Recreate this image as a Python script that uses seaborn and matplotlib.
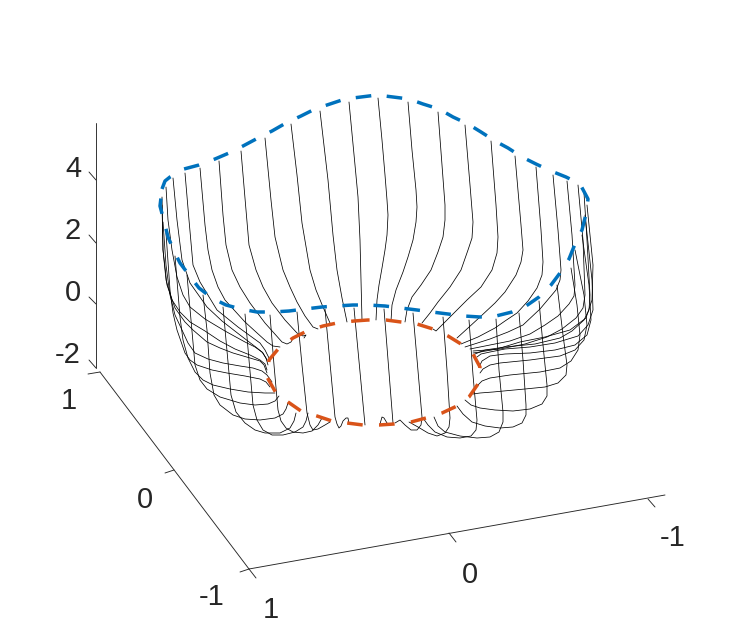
import pandas as pd
import seaborn as sns
import matplotlib
matplotlib.use("Agg")
import matplotlib.pyplot as plt

# Traced in picture units (the view plane of the original 3-D plot)
back_meridians = [
    [(162,197),(163,250),(166,280),(172,300),(180,312),(190,322),(205,331),(220,341),(235,349),(250,355),(260,360),(265,364),(267,370)],
    [(166,187),(168,220),(172,250),(177,277),(183,295),(190,307),(205,319),(225,331),(245,342),(255,347),(262,352),(266,358),(268,365)],
    [(173,178),(177,220),(182,260),(190,283),(207,307),(222,321),(240,335),(257,348),(263,353),(267,360)],
    [(185,173),(189,220),(193,265),(200,282),(217,310),(238,327),(260,343),(265,350),(269,358)],
    [(200,168),(205,225),(208,250),(212,270),(218,287),(225,300),(245,322),(267,342),(273,346),(280,347)],
    [(219,161),(223,215),(226,245),(232,270),(240,287),(250,303),(265,323),(282,342),(287,344),(291,342),(293,338)],
    [(241,151),(246,210),(249,245),(256,270),(263,287),(272,303),(285,320),(297,333),(303,336),(306,335),(304,338)],
    [(265,138),(271,200),(275,237),(283,270),(290,287),(297,302),(305,316),(313,327),(318,329)],
    [(291,124),(297,175),(302,223),(310,270),(316,290),(323,307),(330,323)],
    [(320,111),(328,180),(333,235),(337,270),(342,298),(347,322)],
    [(349,102),(355,165),(358,197),(360,240),(361,280),(362,320)],
    [(378,98),(382,140),(385,175),(387,200),(388,215),(387,235),(385,250),(382,268),(379,285),(377,300),(376,320)],
    [(408,102),(412,150),(416,190),(417,207),(416,222),(413,240),(408,257),(403,272),(396,290),(392,305),(391,321)],
    [(438,112),(442,165),(445,205),(445,220),(443,237),(438,252),(431,270),(421,285),(412,297),(407,310),(405,322)],
    [(465,125),(470,185),(473,222),(472,238),(468,250),(461,270),(450,287),(438,302),(430,313),(422,323)],
    [(491,141),(496,205),(498,237),(497,253),(492,270),(481,287),(467,300),(453,314),(442,325),(436,331),(433,329)],
    [(515,156),(521,225),(523,250),(521,262),(516,275),(505,292),(495,303),(480,317),(468,328),(457,338)],
    [(536,167),(541,230),(543,262),(542,275),(537,288),(528,301),(517,313),(505,321),(495,328),(478,337),(461,344)],
    [(553,175),(558,230),(561,270),(560,280),(556,290),(540,309),(523,325),(508,332),(490,339),(465,347)],
    [(567,181),(572,235),(575,285),(574,296),(569,304),(558,316),(545,325),(530,334),(510,341),(490,345),(470,349)],
    [(578,185),(583,240),(585,295),(583,308),(576,318),(562,329),(547,337),(525,344),(500,349),(473,351)],
    [(584,193),(587,240),(590,295),(589,310),(584,320),(572,331),(560,338),(535,344),(505,347),(485,350),(475,354)],
]
front_meridians = [
    [(162,205),(163,250),(167,285),(175,308),(185,322),(193,330),(207,342),(220,348),(233,353),(250,358),(260,361),(264,365),(267,373)],
    [(163,222),(166,265),(170,295),(175,315),(182,330),(188,343),(195,353),(208,359),(223,363),(240,366),(253,368),(262,371),(267,375),(272,382)],
    [(166,233),(170,290),(173,313),(177,330),(185,353),(190,360),(197,365),(212,370),(227,373),(245,376),(260,379),(266,382),(270,387)],
    [(175,256),(180,317),(183,340),(188,358),(195,372),(203,380),(213,385),(230,389),(248,392),(265,393),(275,393)],
    [(187,275),(191,320),(195,365),(200,380),(207,389),(220,397),(240,403),(255,405),(268,404),(275,401),(279,396)],
    [(203,295),(207,330),(210,373),(214,395),(220,405),(233,415),(245,419),(260,420),(275,418),(283,414),(286,409),(288,403)],
    [(223,307),(226,340),(231,395),(236,412),(245,423),(255,430),(265,433),(280,433),(290,428),(294,421),(296,413)],
    [(245,314),(249,360),(253,405),(257,420),(263,430),(272,435),(283,435),(295,432),(303,427),(306,421),(308,413)],
    [(270,315),(274,365),(278,410),(281,421),(286,428),(293,432),(303,433),(312,431),(318,425),(322,418)],
    [(297,312),(302,365),(307,413),(310,425),(313,430),(318,429),(325,425),(330,422)],
    [(325,309),(335,417),(337,424),(339,428),(341,426),(343,421),(346,418),(348,418),(349,424)],
    [(354,308),(365,425)],
    [(384,309),(393,423),(390,425),(387,423),(384,418),(382,417),(380,424)],
    [(413,313),(422,417),(421,425),(417,430),(411,430),(405,425),(400,420),(395,423)],
    [(443,317),(447,370),(450,418),(449,427),(445,433),(437,436),(428,433),(418,427),(409,422)],
    [(469,320),(473,375),(477,420),(476,430),(471,436),(460,438),(447,437),(435,432),(428,425),(423,418)],
    [(496,319),(499,370),(503,412),(503,422),(499,432),(490,437),(477,438),(460,436),(445,432),(438,426),(434,417)],
    [(519,313),(523,360),(526,405),(526,415),(522,423),(513,427),(500,428),(485,426),(472,422),(463,414),(457,406)],
    [(539,301),(543,345),(547,385),(547,396),(542,404),(530,409),(513,411),(495,410),(480,408),(471,405),(465,400)],
    [(557,285),(563,335),(567,365),(566,375),(558,383),(545,387),(525,389),(493,392),(480,393),(473,394)],
    [(571,268),(577,305),(580,335),(578,350),(571,361),(560,368),(540,372),(510,375),(490,378),(482,381),(478,385)],
    [(575,250),(584,295),(587,325),(584,340),(575,350),(560,356),(530,360),(500,363),(490,365),(483,369),(480,373)],
    [(582,235),(589,285),(591,320),(587,335),(575,345),(555,350),(530,353),(505,354),(490,356),(482,361),(479,367)],
    [(585,215),(592,280),(593,310),(588,325),(578,336),(555,343),(530,347),(505,349),(490,352),(481,354),(477,357)],
    [(587,205),(593,265),(592,300),(586,318),(570,330),(545,337),(520,342),(497,349),(480,352),(473,353)],
]
blue_x = [162,165,170,184,199,215,229,243,258,272,286,301,315,330,345,361,377,393,409,423,439,453,468,
          481,495,508,522,536,551,566,580,588,586,582,575,569,560,551,539,526,512,496,480,464,448,
          432,417,401,385,368,353,336,322,305,289,273,257,241,226,212,199,189,180,174,168,164,160]
blue_y = [189,181,177,169,165,159,153,146,138,131,123,116,109,104,99,97,95,97,99,104,109,117,124,
          132,141,148,157,164,171,177,184,199,214,230,244,259,273,285,297,306,312,316,317,316,314,
          312,310,308,306,305,305,306,307,309,311,312,312,309,305,298,288,275,263,251,237,221,206]
orange_x = [354,368,386,401,417,433,448,461,473,480,478,469,457,442,426,411,394,379,363,347,332,317,
            301,288,276,267,269,279,293,307,323,337]
orange_y = [321,320,320,322,324,329,336,344,354,367,384,397,406,413,418,422,424,425,425,423,421,416,
            411,402,393,377,360,348,338,331,326,323]
axis_x_line = [(249,569),(665,495)]
axis_y_line = [(100,372),(249,569)]
axis_z_line = [(96,123),(96,368)]
ticks = [[(96,180),(89,172)],[(96,243),(89,235)],[(96,304),(89,297)],[(96,368),(89,360)],
         [(100,372),(88,374)],[(174,470),(165,473)],[(249,569),(240,572)],
         [(249,569),(256,578)],[(449,533),(456,542)],[(648,499),(655,507)]]
tick_labels = [("4",73,169),("2",73,231),("0",73,293),("-2",68,355),
               ("1",69,401),("0",145,500),("-1",212,597),
               ("1",271,610),("0",470,575),("-1",673,538)]

def frame(lines):
    rows = [(i, x, y) for i, pts in enumerate(lines) for x, y in pts]
    return pd.DataFrame(rows, columns=["line", "x", "y"])

sns.set_theme(style="white")
plt.rcParams["font.family"] = ["Liberation Sans", "DejaVu Sans"]
fig = plt.figure(figsize=(7.36, 6.4), dpi=100)
ax = fig.add_axes([0, 0, 1, 1])

common = dict(x="x", y="y", units="line", estimator=None, sort=False, ax=ax, legend=False)
sns.lineplot(data=frame(back_meridians + front_meridians), color="black", lw=0.55, **common)
sns.lineplot(data=frame([axis_x_line, axis_y_line, axis_z_line] + ticks), color="#262626", lw=0.65, **common)
blue = pd.DataFrame({"x": blue_x + blue_x[:1], "y": blue_y + blue_y[:1], "line": 0})
orange = pd.DataFrame({"x": orange_x + orange_x[:1], "y": orange_y + orange_y[:1], "line": 0})
sns.lineplot(data=orange, color="#D95319", lw=2.5, linestyle=(0, (4.5, 4.7)), **common)
sns.lineplot(data=blue, color="#0072BD", lw=2.5, linestyle=(0, (4.5, 4.47)), **common)

for text, x, y in tick_labels:
    ax.text(x, y, text, ha="center", va="center", fontsize=21, color="#262626")

ax.set_xlim(0, 736)
ax.set_ylim(640, 0)
ax.axis("off")
fig.savefig("out.png", dpi=100)
